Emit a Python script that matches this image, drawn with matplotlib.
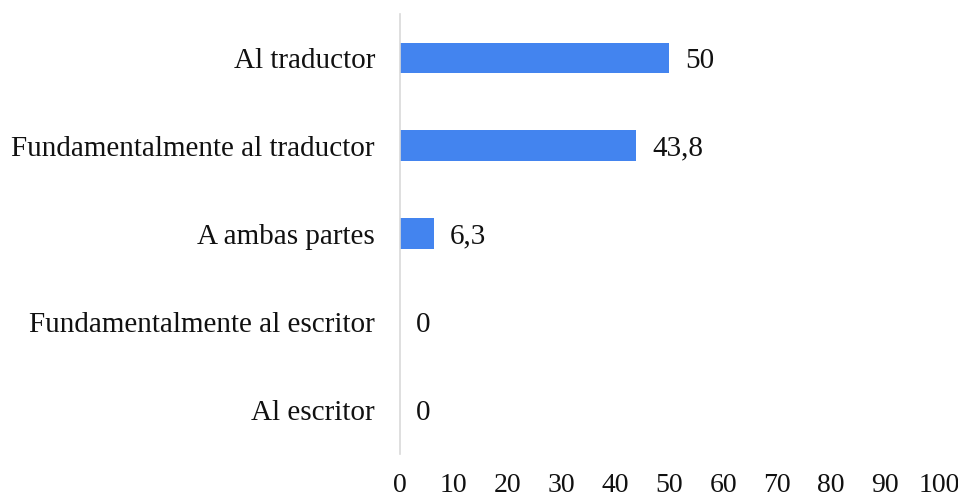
import matplotlib
matplotlib.use("Agg")
import matplotlib.pyplot as plt

categories = ["Al traductor", "Fundamentalmente al traductor", "A ambas partes",
              "Fundamentalmente al escritor", "Al escritor"]
values = [50, 43.8, 6.3, 0, 0]
value_labels = ["50", "43,8", "6,3", "0", "0"]
xticks = list(range(0, 101, 10))

plt.rcParams["font.family"] = ["Liberation Serif", "DejaVu Serif"]

fig = plt.figure(figsize=(9.58, 4.99), dpi=100)
ax = fig.add_axes([0.4175, 0.091, 0.5625, 0.881])

ypos = list(range(len(categories)))
ax.barh(ypos, values, height=0.35, color="#4384EF")
ax.set_ylim(len(categories) - 0.5, -0.5)
ax.set_xlim(0, 100)
ax.set_yticks(ypos)
ax.set_yticklabels(categories)
ax.set_xticks(xticks)
ax.set_xticklabels([str(t) for t in xticks])

for y, v, lab in zip(ypos, values, value_labels):
    ax.annotate(lab, xy=(v, y), xytext=(11.5, 0), textcoords="offset points",
                ha="left", va="center_baseline", fontsize=21, color="#111111")

ax.tick_params(axis="both", length=0, colors="#111111")
ax.tick_params(axis="y", labelsize=21, pad=18)
ax.tick_params(axis="x", labelsize=20, pad=14)
for s in ["top", "right", "bottom"]:
    ax.spines[s].set_visible(False)
ax.spines["left"].set_color("#d9d9d9")
ax.spines["left"].set_linewidth(1.2)

fig.savefig("out.png", dpi=100, facecolor="white")
